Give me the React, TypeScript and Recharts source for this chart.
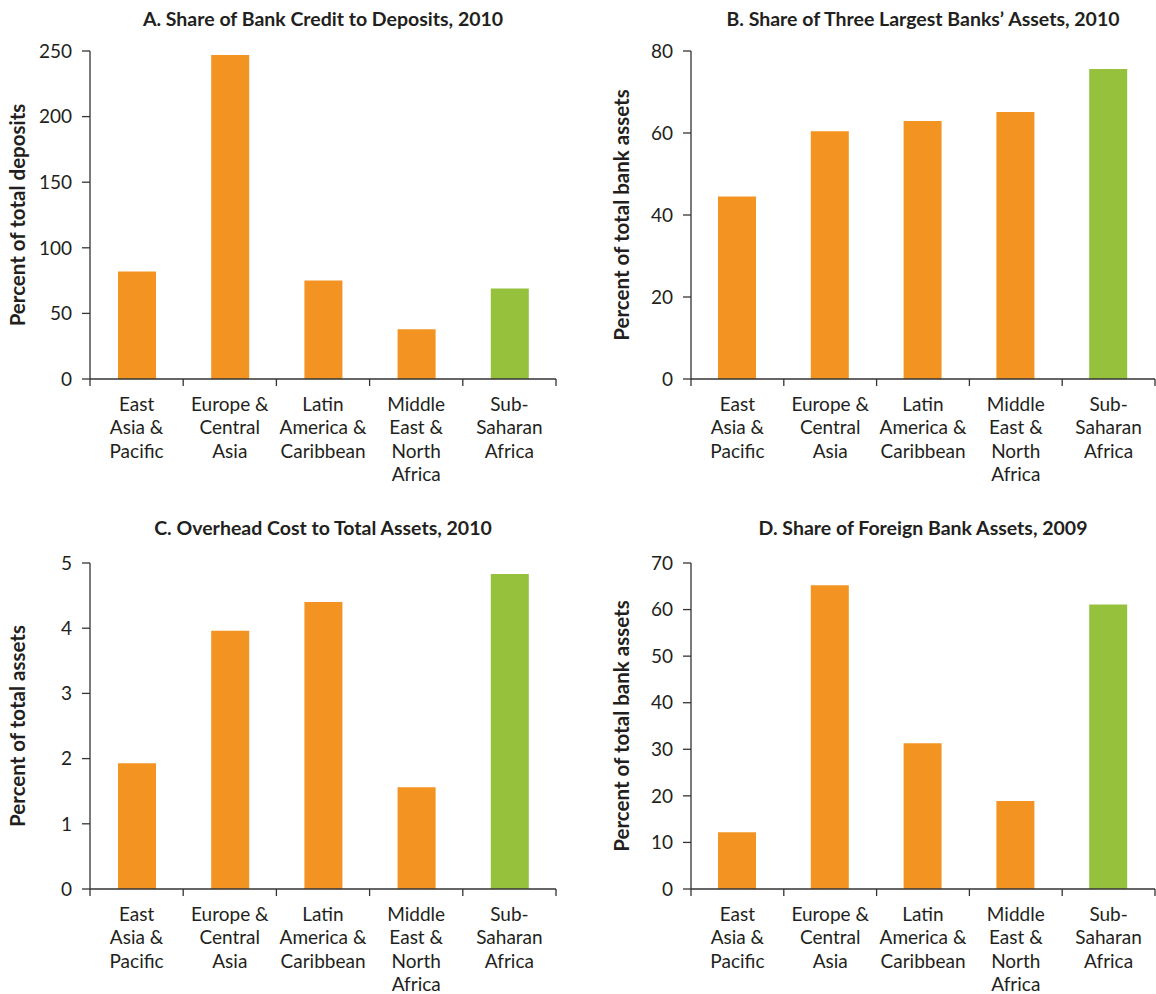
import React from "react";
import { Bar, BarChart, Cell, XAxis, YAxis } from "recharts";

const regions = [
  "East Asia & Pacific",
  "Europe & Central Asia",
  "Latin America & Caribbean",
  "Middle East & North Africa",
  "Sub-Saharan Africa",
];

// how each region name is broken over lines under the axis
const regionLines = [
  ["East", "Asia &", "Pacific"],
  ["Europe &", "Central", "Asia"],
  ["Latin", "America &", "Caribbean"],
  ["Middle", "East &", "North", "Africa"],
  ["Sub-", "Saharan", "Africa"],
];

const creditToDeposits = [82, 247, 75, 38, 69];
const threeLargestShare = [44.5, 60.4, 62.9, 65.1, 75.6];
const overheadCost = [1.93, 3.96, 4.4, 1.56, 4.83];
const foreignShare = [12.2, 65.2, 31.3, 18.9, 61.1];

const ticksA = [0, 50, 100, 150, 200, 250];
const ticksB = [0, 20, 40, 60, 80];
const ticksC = [0, 1, 2, 3, 4, 5];
const ticksD = [0, 10, 20, 30, 40, 50, 60, 70];

const ORANGE = "#F39322";
const GREEN = "#95C13D";
const INK = "#231F20";
const FONT = "Lato, 'Open Sans', sans-serif";

function RegionTick(props: any) {
  const { x, y, payload, index, visibleTicksCount } = props;
  const half = payload?.offset ?? 0;
  const lines = regionLines[regions.indexOf(payload.value)] ?? [payload.value];
  const isLast = index === visibleTicksCount - 1;
  return (
    <g>
      <line x1={x - half} x2={x - half} y1={y} y2={y + 7} stroke="#333" strokeWidth={1.3} />
      {isLast && (
        <line x1={x + half} x2={x + half} y1={y} y2={y + 7} stroke="#333" strokeWidth={1.3} />
      )}
      <text x={x} y={y + 25} textAnchor="middle" fill={INK} fontSize={19} fontFamily={FONT}>
        {lines.map((line, i) => (
          <tspan key={i} x={x} dy={i === 0 ? "0.35em" : 23.5}>
            {line}
          </tspan>
        ))}
      </text>
    </g>
  );
}

interface PanelProps {
  title: string;
  values: number[];
  ticks: number[];
  yLabel: string;
  left: number;
  top: number;
  plotTop: number;
  xAxisHeight: number;
  yAxisWidth: number;
  rightPad: number;
  labelOffset: number;
  titleTop: number;
}

function Panel({
  title,
  values,
  ticks,
  yLabel,
  left,
  top,
  plotTop,
  xAxisHeight,
  yAxisWidth,
  rightPad,
  labelOffset,
  titleTop,
}: PanelProps) {
  const data = regions.map((region, i) => ({ region, value: values[i] }));
  const width = 578;
  const height = 497;
  return (
    <div style={{ position: "absolute", left, top, width, height }}>
      <div
        style={{
          position: "absolute",
          left: yAxisWidth,
          width: width - yAxisWidth - rightPad,
          top: titleTop,
          textAlign: "center",
          fontFamily: FONT,
          fontWeight: 700,
          fontSize: 19.5,
          lineHeight: "22px",
          color: INK,
          whiteSpace: "nowrap",
        }}
      >
        {title}
      </div>
      <BarChart
        width={width}
        height={height}
        data={data}
        margin={{ top: plotTop, right: rightPad, left: 0, bottom: 0 }}
      >
        <XAxis
          dataKey="region"
          interval={0}
          height={xAxisHeight}
          tickLine={false}
          tickSize={0}
          tickMargin={0}
          axisLine={{ stroke: "#333", strokeWidth: 1.3 }}
          tick={<RegionTick />}
        />
        <YAxis
          width={yAxisWidth}
          domain={[ticks[0], ticks[ticks.length - 1]]}
          ticks={ticks}
          interval={0}
          tickSize={8}
          tickMargin={10}
          axisLine={{ stroke: "#333", strokeWidth: 1.3 }}
          tickLine={{ stroke: "#333", strokeWidth: 1.3 }}
          tick={{ fill: INK, fontSize: 19, fontFamily: FONT }}
          label={{
            value: yLabel,
            angle: -90,
            position: "insideLeft",
            offset: labelOffset,
            style: {
              textAnchor: "middle",
              fill: INK,
              fontSize: 20.5,
              fontWeight: 700,
              fontFamily: FONT,
            },
          }}
        />
        <Bar dataKey="value" barSize={38} isAnimationActive={false}>
          {data.map((d, i) => (
            <Cell key={d.region} fill={i === data.length - 1 ? GREEN : ORANGE} />
          ))}
        </Bar>
      </BarChart>
    </div>
  );
}

export default function App() {
  return (
    <div
      style={{
        position: "absolute",
        left: 0,
        top: 0,
        width: 1156,
        height: 994,
        background: "#fff",
      }}
    >
      <Panel
        title="A. Share of Bank Credit to Deposits, 2010"
        values={creditToDeposits}
        ticks={ticksA}
        yLabel="Percent of total deposits"
        left={0}
        top={0}
        plotTop={51}
        xAxisHeight={118}
        yAxisWidth={90}
        rightPad={22}
        labelOffset={18}
        titleTop={8}
      />
      <Panel
        title="B. Share of Three Largest Banks’ Assets, 2010"
        values={threeLargestShare}
        ticks={ticksB}
        yLabel="Percent of total bank assets"
        left={578}
        top={0}
        plotTop={51}
        xAxisHeight={118}
        yAxisWidth={113}
        rightPad={1}
        labelOffset={44}
        titleTop={8}
      />
      <Panel
        title="C. Overhead Cost to Total Assets, 2010"
        values={overheadCost}
        ticks={ticksC}
        yLabel="Percent of total assets"
        left={0}
        top={497}
        plotTop={66}
        xAxisHeight={105}
        yAxisWidth={90}
        rightPad={22}
        labelOffset={18}
        titleTop={20}
      />
      <Panel
        title="D. Share of Foreign Bank Assets, 2009"
        values={foreignShare}
        ticks={ticksD}
        yLabel="Percent of total bank assets"
        left={578}
        top={497}
        plotTop={66}
        xAxisHeight={105}
        yAxisWidth={113}
        rightPad={1}
        labelOffset={44}
        titleTop={20}
      />
    </div>
  );
}
